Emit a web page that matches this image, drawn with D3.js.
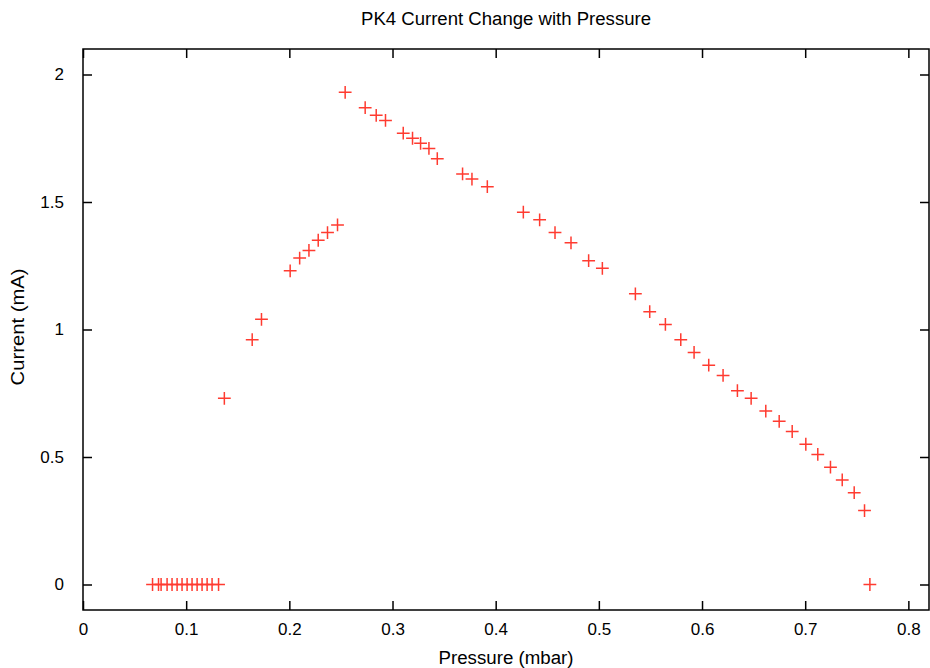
<!DOCTYPE html>
<html><head><meta charset="utf-8">
<script src="https://cdn.jsdelivr.net/npm/d3@7"></script>
<style>
body{margin:0;background:#fff;}
text{font-family:"Liberation Sans",Arial,Helvetica,sans-serif;}
</style></head>
<body><svg id="c" width="930" height="668"></svg>
<script>
const title = "PK4 Current Change with Pressure";
const xLabel = "Pressure (mbar)";
const yLabel = "Current (mA)";
const pressure = [0.0674,0.0732,0.0757,0.0815,0.0863,0.0912,0.0960,0.1009,0.1057,0.1106,0.1154,0.1203,0.1251,0.1314,
  0.137,0.164,0.173,0.2008,0.210,0.219,0.228,0.237,0.2467,
  0.2541,0.2735,0.2842,0.2932,0.3104,0.3194,0.3272,0.3353,0.3434,0.3679,0.377,0.3919,
  0.4268,0.4426,0.4575,0.473,0.4901,0.5034,0.5354,0.5493,0.5645,0.5794,0.5923,0.6065,0.6204,
  0.6343,0.6476,0.6618,0.6748,0.6874,0.7006,0.7122,0.7245,0.7359,0.7475,0.7575,0.7627];
const current = [0,0,0,0,0,0,0,0,0,0,0,0,0,0,
  0.73,0.96,1.04,1.23,1.28,1.31,1.35,1.38,1.41,
  1.93,1.87,1.84,1.82,1.77,1.75,1.73,1.71,1.67,1.61,1.59,1.56,
  1.46,1.43,1.38,1.34,1.27,1.24,1.14,1.07,1.02,0.96,0.91,0.86,0.82,
  0.76,0.73,0.68,0.64,0.60,0.55,0.51,0.46,0.41,0.36,0.29,0];
const xTicks = [0,0.1,0.2,0.3,0.4,0.5,0.6,0.7,0.8];
const yTicks = [0,0.5,1,1.5,2];
const xTickLabels = ["0","0.1","0.2","0.3","0.4","0.5","0.6","0.7","0.8"];
const yTickLabels = ["0","0.5","1","1.5","2"];

const L=83,R=929,T=49,B=610;
const svg=d3.select("#c");
const x=d3.scaleLinear().domain([0,0.82]).range([L,R]);
const y=d3.scaleLinear().domain([-0.1,2.1]).range([B,T]);
const tl=9;
const fs=17;

const gxB=svg.append("g").attr("transform",`translate(0,${B})`)
  .call(d3.axisBottom(x).tickValues(xTicks).tickSize(-tl).tickPadding(13).tickFormat((d,i)=>xTickLabels[i]));
const gxT=svg.append("g").attr("transform",`translate(0,${T})`)
  .call(d3.axisTop(x).tickValues(xTicks).tickSize(-tl).tickFormat(""));
const gyL=svg.append("g").attr("transform",`translate(${L},0)`)
  .call(d3.axisLeft(y).tickValues(yTicks).tickSize(-tl).tickPadding(19).tickFormat((d,i)=>yTickLabels[i]));
const gyR=svg.append("g").attr("transform",`translate(${R},0)`)
  .call(d3.axisRight(y).tickValues(yTicks).tickSize(-tl).tickFormat(""));
[gxB,gxT,gyL,gyR].forEach(g=>{
  g.select(".domain").remove();
  g.selectAll("line").attr("stroke","#000").attr("stroke-width",1.5);
  g.selectAll("text").attr("font-size",fs).attr("fill","#000").style("font-family","'Liberation Sans',Arial,sans-serif");
});
svg.append("rect").attr("x",L).attr("y",T).attr("width",R-L).attr("height",B-T)
  .attr("fill","none").attr("stroke","#000").attr("stroke-width",1.5);

const data=pressure.map((p,i)=>({p,c:current[i]}));
const h=6.4;
const g=svg.append("g").attr("stroke","#ff3b30").attr("stroke-width",1.5).attr("fill","none");
g.selectAll("path").data(data).enter().append("path")
  .attr("d",d=>{const cx=x(d.p),cy=y(d.c);return `M${cx-h},${cy}H${cx+h}M${cx},${cy-h}V${cy+h}`;});

svg.append("text").attr("x",506).attr("y",25).attr("text-anchor","middle").attr("font-size",18).attr("textLength",290).attr("lengthAdjust","spacingAndGlyphs").text(title);
svg.append("text").attr("x",506).attr("y",664).attr("text-anchor","middle").attr("font-size",18).attr("textLength",135).attr("lengthAdjust","spacingAndGlyphs").text(xLabel);
svg.append("text").attr("transform","translate(24,327) rotate(-90)").attr("text-anchor","middle").attr("font-size",18).attr("textLength",117).attr("lengthAdjust","spacingAndGlyphs").text(yLabel);
</script></body></html>
